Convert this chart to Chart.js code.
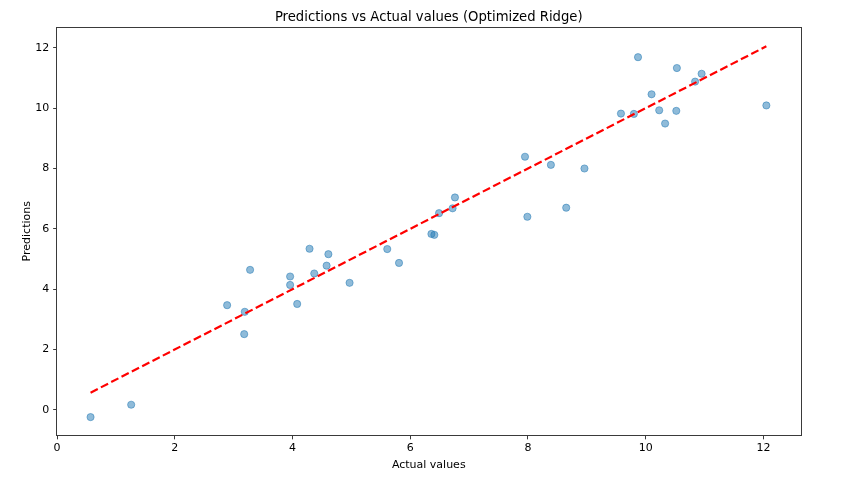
<!DOCTYPE html>
<html>
<head>
<meta charset="utf-8">
<script src="https://cdn.jsdelivr.net/npm/chart.js@4"></script>
<style>
html,body{margin:0;padding:0;background:#fff;}
#wrap{width:842px;height:482px;}
</style>
</head>
<body>
<div id="wrap"><canvas id="c" width="842" height="482"></canvas></div>
<script>
const actualValues = [0.57, 1.26, 2.89, 3.19, 3.18, 3.28, 3.96, 3.96, 4.08, 4.29, 4.37, 4.58, 4.61, 4.97, 5.61, 5.81, 6.36, 6.41, 6.49, 6.72, 6.76, 7.95, 7.99, 8.39, 8.65, 8.96, 9.58, 9.80, 9.87, 10.10, 10.23, 10.33, 10.52, 10.53, 10.84, 10.95, 12.05];
const predictedValues = [-0.24, 0.17, 3.47, 3.25, 2.51, 4.64, 4.42, 4.14, 3.51, 5.34, 4.52, 4.78, 5.16, 4.21, 5.33, 4.87, 5.83, 5.80, 6.52, 6.68, 7.04, 8.39, 6.40, 8.12, 6.70, 8.00, 9.82, 9.81, 11.69, 10.46, 9.93, 9.49, 9.91, 11.33, 10.88, 11.14, 10.09];
const xTicks = [0, 2, 4, 6, 8, 10, 12];
const yTicks = [0, 2, 4, 6, 8, 10, 12];
const xLimits = [0.0, 12.63];
const yLimits = [-0.85, 12.69];
const titleText = 'Predictions vs Actual values (Optimized Ridge)';
const xLabel = 'Actual values';
const yLabel = 'Predictions';

const points = actualValues.map((v, i) => ({x: v, y: predictedValues[i]}));
const lo = Math.min(...actualValues), hi = Math.max(...actualValues);
const idealLine = [{x: lo, y: lo}, {x: hi, y: hi}];

const FONT = 'DejaVu Sans';
const SPINE = '#3a3a3a';

const framePlugin = {
  id: 'frame',
  afterDraw(chart) {
    const {ctx, chartArea: a} = chart;
    ctx.save();
    ctx.strokeStyle = SPINE;
    ctx.lineWidth = 1;
    ctx.strokeRect(Math.round(a.left) - 0.5, Math.round(a.top) + 0.5, Math.round(a.right - a.left) + 1, Math.round(a.bottom - a.top) - 1);
    ctx.fillStyle = '#000';
    ctx.textAlign = 'center';
    ctx.textBaseline = 'alphabetic';
    ctx.font = '13.2px "' + FONT + '"';
    const cx = (a.left + a.right) / 2;
    ctx.fillText(titleText, cx, 21);
    ctx.font = '11px "' + FONT + '"';
    ctx.fillText(xLabel, cx, 467.5);
    ctx.translate(29.5, (a.top + a.bottom) / 2);
    ctx.rotate(-Math.PI / 2);
    ctx.fillText(yLabel, 0, 0);
    ctx.restore();
  }
};

new Chart(document.getElementById('c'), {
  type: 'scatter',
  data: {
    datasets: [
      {
        type: 'line',
        data: idealLine,
        borderColor: '#ff0000',
        borderWidth: 2.2,
        borderDash: [8.1, 3.5],
        pointRadius: 0,
        fill: false,
        tension: 0
      },
      {
        data: points,
        backgroundColor: 'rgba(31,119,180,0.5)',
        borderColor: 'rgba(31,119,180,0.5)',
        borderWidth: 1,
        pointRadius: 3.6,
        pointHoverRadius: 3.6
      }
    ]
  },
  options: {
    responsive: false,
    animation: false,
    devicePixelRatio: 1,
    layout: {padding: {left: 0, right: 41.5, top: 27, bottom: 0}},
    plugins: {legend: {display: false}, tooltip: {enabled: false}, title: {display: false}},
    scales: {
      x: {
        type: 'linear',
        min: xLimits[0], max: xLimits[1],
        afterFit(s) { s.height = 46.5; },
        afterBuildTicks(s) { s.ticks = xTicks.map(v => ({value: v})); },
        grid: {display: true, drawOnChartArea: false, drawTicks: true, tickLength: 3.85, tickColor: SPINE, tickWidth: 1},
        border: {display: false},
        ticks: {color: '#000', font: {family: FONT, size: 11}, padding: 2.5, maxRotation: 0, callback: v => String(v)}
      },
      y: {
        type: 'linear',
        min: yLimits[0], max: yLimits[1],
        afterFit(s) { s.width = 57; },
        afterBuildTicks(s) { s.ticks = yTicks.map(v => ({value: v})); },
        grid: {display: true, drawOnChartArea: false, drawTicks: true, tickLength: 3.85, tickColor: SPINE, tickWidth: 1},
        border: {display: false},
        ticks: {color: '#000', font: {family: FONT, size: 11}, padding: 3.85, callback: v => String(v)}
      }
    }
  },
  plugins: [framePlugin]
});
</script>
</body>
</html>
